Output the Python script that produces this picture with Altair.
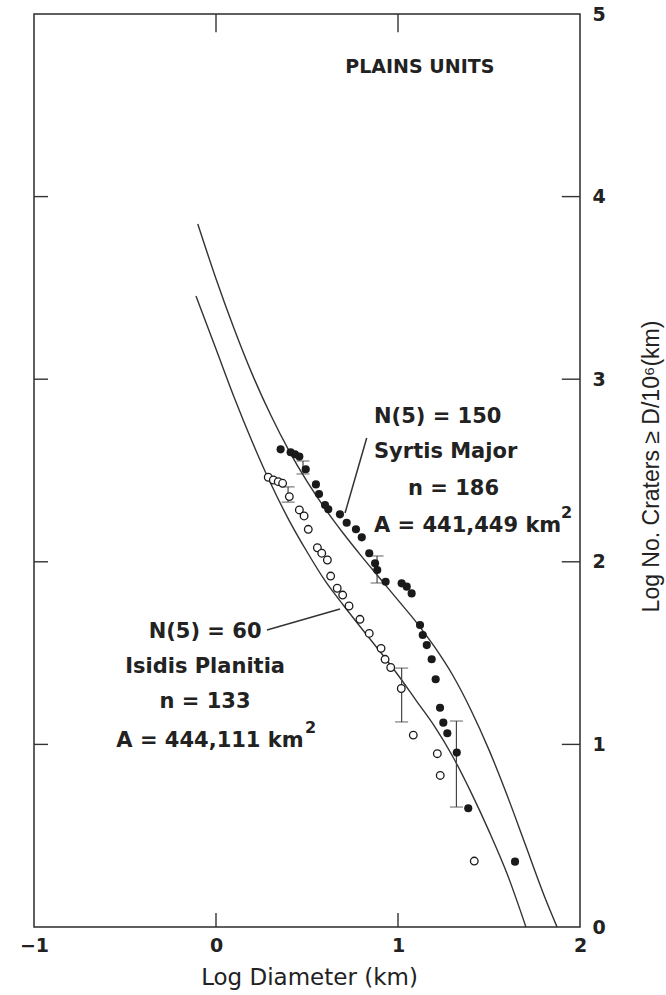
import altair as alt
import pandas as pd

# ---------------- data ----------------
# Syrtis Major (filled circles)
syrtis_x = [0.355, 0.410, 0.434, 0.458, 0.493, 0.549, 0.566, 0.599, 0.617, 0.681,
            0.718, 0.769, 0.801, 0.842, 0.874, 0.886, 0.932, 1.020, 1.048, 1.075,
            1.121, 1.136, 1.158, 1.185, 1.207, 1.231, 1.249, 1.271, 1.323, 1.386, 1.643]
syrtis_y = [2.616, 2.600, 2.589, 2.576, 2.507, 2.424, 2.371, 2.311, 2.288, 2.260,
            2.214, 2.178, 2.134, 2.047, 1.992, 1.955, 1.891, 1.882, 1.864, 1.827,
            1.654, 1.599, 1.544, 1.466, 1.357, 1.201, 1.119, 1.061, 0.955, 0.650, 0.358]

# Isidis Planitia (open circles)
isidis_x = [0.287, 0.315, 0.342, 0.366, 0.403, 0.458, 0.484, 0.507, 0.557, 0.581,
            0.612, 0.630, 0.666, 0.696, 0.731, 0.791, 0.842, 0.907, 0.929, 0.960,
            1.018, 1.084, 1.216, 1.232, 1.419]
isidis_y = [2.463, 2.448, 2.439, 2.430, 2.357, 2.284, 2.251, 2.178, 2.077, 2.047,
            2.010, 1.922, 1.855, 1.818, 1.758, 1.685, 1.608, 1.526, 1.466, 1.421,
            1.306, 1.051, 0.949, 0.830, 0.361]

# production-function curves
upper_x = [-0.10, 0.0, 0.1, 0.2, 0.3, 0.4, 0.5, 0.6, 0.7, 0.8, 0.9, 1.0,
           1.1, 1.2, 1.3, 1.4, 1.5, 1.6, 1.7, 1.8, 1.874]
upper_y = [3.85, 3.55, 3.275, 3.025, 2.805, 2.61, 2.44, 2.29, 2.155, 2.03, 1.91, 1.79,
           1.67, 1.535, 1.38, 1.19, 0.97, 0.72, 0.45, 0.18, 0.0]
lower_x = [-0.11, 0.0, 0.1, 0.2, 0.3, 0.4, 0.5, 0.6, 0.7, 0.8, 0.9, 1.0,
           1.1, 1.2, 1.3, 1.4, 1.5, 1.6, 1.703]
lower_y = [3.456, 3.165, 2.90, 2.655, 2.43, 2.23, 2.055, 1.895, 1.762, 1.635, 1.51, 1.38,
           1.24, 1.10, 0.935, 0.74, 0.525, 0.29, 0.0]

# error bars
err_x = [0.478, 0.885, 1.321, 0.396, 1.020]
err_lo = [2.481, 1.884, 0.657, 2.327, 1.123]
err_hi = [2.552, 2.032, 1.128, 2.410, 1.418]

# axes
x_ticks = [-1, 0, 1, 2]
y_ticks = [0, 1, 2, 3, 4, 5]
inner_x_ticks = [0, 1]
inner_y_ticks = [1, 2, 3, 4]

# annotations
syrtis_lines = ["N(5) = 150", "Syrtis Major", "n = 186", "A = 441,449 km"]
syrtis_tx = [0.868, 0.868, 1.055, 0.868]
syrtis_ty = [2.760, 2.568, 2.366, 2.163]
isidis_lines = ["N(5) = 60", "Isidis Planitia", "n = 133", "A = 444,111 km"]
isidis_tx = [-0.060, -0.060, -0.060, -0.033]
isidis_ty = [1.583, 1.391, 1.199, 0.986]
sup_x = [1.896, 0.489]
sup_y = [2.240, 1.062]
pointer_x = [0.828, 0.280]
pointer_y = [2.678, 1.627]
pointer_x2 = [0.709, 0.681]
pointer_y2 = [2.267, 1.742]
panel_title = "PLAINS UNITS"
panel_title_xy = (1.12, 4.677)

# ---------------- chart ----------------
INK = "#222222"
xs = alt.Scale(domain=[-1, 2], nice=False, zero=False)
ys = alt.Scale(domain=[0, 5], nice=False, zero=False)

x_axis = alt.Axis(values=x_ticks, format="d", orient="bottom", domain=False, ticks=False,
                  grid=False, labelFlush=False, labelPadding=9, labelFontSize=19,
                  labelFont="DejaVu Sans", labelFontWeight="bold", labelColor=INK,
                  title="Log Diameter (km)", titleFont="DejaVu Sans", titleFontSize=23,
                  titleFontWeight="normal", titleColor=INK, titleX=275, titleY=50,
                  titleAlign="center", titleBaseline="middle")
y_axis = alt.Axis(values=y_ticks, format="d", orient="right", domain=False, ticks=False,
                  grid=False, labelFlush=False, labelPadding=12, labelFontSize=19,
                  labelFont="DejaVu Sans", labelFontWeight="bold", labelColor=INK,
                  title="Log No. Craters \u2265 D/10\u2076(km)", titleFont="Liberation Sans",
                  titleFontSize=23, titleFontWeight="normal", titleColor=INK,
                  titleAngle=270, titleX=71, titleY=452, titleAlign="center",
                  titleBaseline="middle")


def X(field):
    return alt.X(field, type="quantitative", scale=xs, axis=x_axis)


def Y(field):
    return alt.Y(field, type="quantitative", scale=ys, axis=y_axis)


curves = pd.concat([
    pd.DataFrame({"x": upper_x, "y": upper_y, "c": "upper"}),
    pd.DataFrame({"x": lower_x, "y": lower_y, "c": "lower"}),
])
curve_layer = alt.Chart(curves).mark_line(color="#333333", strokeWidth=1.4,
                                          interpolate="monotone").encode(
    x=X("x"), y=Y("y"), detail="c:N")

# frame inner ticks
tk = []
for v in inner_x_ticks:
    tk.append({"x": v, "x2": v, "y": 0, "y2": 0.077})
    tk.append({"x": v, "x2": v, "y": 5, "y2": 5 - 0.1})
for v in inner_y_ticks:
    tk.append({"x": -1, "x2": -1 + 0.077, "y": v, "y2": v})
    tk.append({"x": 2, "x2": 2 - 0.1, "y": v, "y2": v})
tick_layer = alt.Chart(pd.DataFrame(tk)).mark_rule(color="#333333", strokeWidth=1.4).encode(
    x=X("x"), x2="x2", y=Y("y"), y2="y2")

err = pd.DataFrame({"x": err_x, "lo": err_lo, "hi": err_hi})
err_rule = alt.Chart(err).mark_rule(color="#444444", strokeWidth=1.2).encode(
    x=X("x"), y=Y("lo"), y2="hi")
err_cap_lo = alt.Chart(err).mark_tick(orient="horizontal", size=13, thickness=1.2,
                                      color="#444444").encode(x=X("x"), y=Y("lo"))
err_cap_hi = alt.Chart(err).mark_tick(orient="horizontal", size=13, thickness=1.2,
                                      color="#444444").encode(x=X("x"), y=Y("hi"))

filled = alt.Chart(pd.DataFrame({"x": syrtis_x, "y": syrtis_y})).mark_point(
    shape="circle", filled=True, size=66, color="#1a1a1a", opacity=1).encode(
    x=X("x"), y=Y("y"))
opened = alt.Chart(pd.DataFrame({"x": isidis_x, "y": isidis_y})).mark_point(
    shape="circle", filled=False, size=58, color="#1a1a1a", strokeWidth=1.3,
    fill="white", fillOpacity=1, opacity=1).encode(x=X("x"), y=Y("y"))

pointers = alt.Chart(pd.DataFrame({"x": pointer_x, "y": pointer_y,
                                   "x2": pointer_x2, "y2": pointer_y2})).mark_rule(
    color="#333333", strokeWidth=1.5).encode(x=X("x"), y=Y("y"), x2="x2", y2="y2")

syr_text = alt.Chart(pd.DataFrame({"x": syrtis_tx, "y": syrtis_ty, "t": syrtis_lines})).mark_text(
    align="left", baseline="alphabetic", font="DejaVu Sans", fontWeight="bold",
    fontSize=21, color=INK).encode(x=X("x"), y=Y("y"), text="t:N")
isi_text = alt.Chart(pd.DataFrame({"x": isidis_tx, "y": isidis_ty, "t": isidis_lines})).mark_text(
    align="center", baseline="alphabetic", font="DejaVu Sans", fontWeight="bold",
    fontSize=21, color=INK).encode(x=X("x"), y=Y("y"), text="t:N")
sup_text = alt.Chart(pd.DataFrame({"x": sup_x, "y": sup_y, "t": ["2", "2"]})).mark_text(
    align="left", baseline="alphabetic", font="DejaVu Sans", fontWeight="bold",
    fontSize=16, color=INK).encode(x=X("x"), y=Y("y"), text="t:N")
title_text = alt.Chart(pd.DataFrame({"x": [panel_title_xy[0]], "y": [panel_title_xy[1]],
                                     "t": [panel_title]})).mark_text(
    align="center", baseline="alphabetic", font="DejaVu Sans", fontWeight="bold",
    fontSize=19, color=INK).encode(x=X("x"), y=Y("y"), text="t:N")

chart = alt.layer(
    curve_layer, tick_layer, err_rule, err_cap_lo, err_cap_hi, opened, filled,
    pointers, syr_text, isi_text, sup_text, title_text
).properties(
    width=546, height=913,
    autosize=alt.AutoSizeParams(type="none"),
    padding={"left": 34, "top": 14, "right": 86, "bottom": 68},
    background="white",
).configure_view(stroke="#2b2b2b", strokeWidth=1.5)

chart.save("out.html", embed_options={"renderer": "svg", "actions": False})
